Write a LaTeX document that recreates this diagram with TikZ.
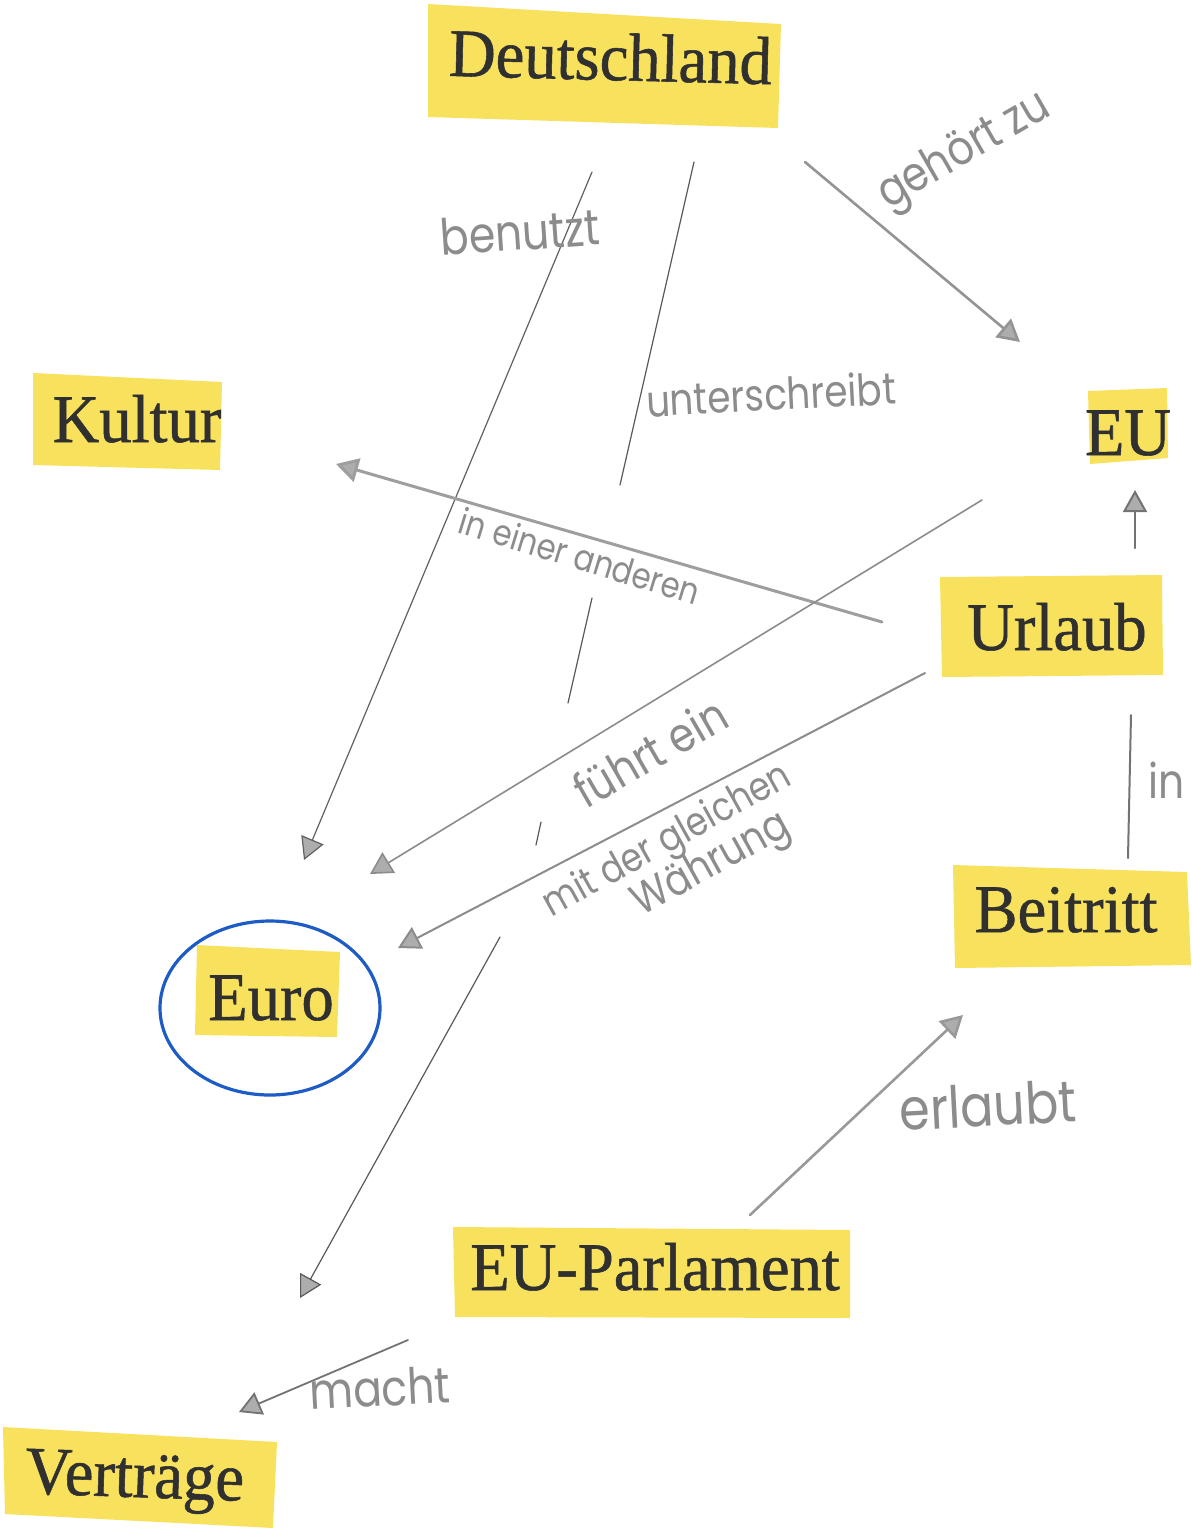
\documentclass[tikz,border=0pt]{standalone}
\usepackage{fontspec}
\usetikzlibrary{arrows.meta}
\newfontfamily\boxfont[FakeStretch=0.95,FakeBold=0.8]{Liberation Serif}
\newfontfamily\handfont[FakeStretch=0.85]{Poppins}
\definecolor{paper}{RGB}{248,225,92}
\definecolor{ink}{RGB}{48,48,48}
\definecolor{penblue}{RGB}{28,92,196}

\begin{document}
\begin{tikzpicture}[x=0.5pt,y=-0.5pt,
  term/.style={anchor=base, inner sep=0pt, text=ink,
    font=\boxfont\fontsize{34}{38}\selectfont},
  hand/.style={inner sep=0pt, text=black!45, align=center},
  tip/.style={-{Triangle[length=11pt,width=12pt,fill=black!32]}},
  link/.style={draw=black!55, line width=0.7pt, line cap=round},
  heavy/.style={draw=black!42, line width=1.3pt, line cap=round},
]
\fill[white] (0,0) rectangle (1191,1528);
\useasboundingbox (0,0) rectangle (1191,1528);

% paper slips
\fill[paper] (428,4) -- (781,24) -- (778,128) -- (428,117) -- cycle;
\fill[paper] (33,373) -- (222,382) -- (220,470) -- (33,465) -- cycle;
\fill[paper] (1088,391) -- (1167,388) -- (1168,458) -- (1090,464) -- cycle;
\fill[paper] (940,577) -- (1162,575) -- (1163,675) -- (942,677) -- cycle;
\fill[paper] (953,865) -- (1187,872) -- (1191,965) -- (955,968) -- cycle;
\fill[paper] (197,945) -- (340,952) -- (337,1037) -- (195,1035) -- cycle;
\fill[paper] (453,1227) -- (850,1230) -- (850,1318) -- (455,1317) -- cycle;
\fill[paper] (3,1427) -- (277,1442) -- (273,1528) -- (5,1514) -- cycle;

% terms
\node[term, rotate=-1.5] (deu) at (610,80) {Deutschland};
\node[term] (kul) at (137,442) {Kultur};
\node[term] (eu) at (1128,455) {EU};
\node[term] (url) at (1057,650) {Urlaub};
\node[term] (bei) at (1066,932) {Beitritt};
\node[term] (euro) at (271,1020) {Euro};
\node[term] (par) at (655,1290) {EU-Parlament};
\node[term, rotate=-2] (ver) at (134,1497) {Verträge};

% ring around Euro
\draw[penblue, line width=1.6pt] (270,1008) ellipse [x radius=110, y radius=87];

% connector end points
\coordinate (deu-b) at (592,172);   \coordinate (euro-b) at (304,860);
\coordinate (deu-u) at (694,162);   \coordinate (ver-u) at (300,1298);
\coordinate (deu-g) at (805,162);   \coordinate (eu-g) at (1020,342);
\coordinate (url-k) at (882,622);   \coordinate (kul-k) at (336,464);
\coordinate (eu-f) at (982,500);    \coordinate (euro-f) at (370,874);
\coordinate (url-m) at (925,673);   \coordinate (euro-m) at (398,948);
\coordinate (url-e) at (1135,548);  \coordinate (eu-e) at (1135,490);
\coordinate (bei-i) at (1128,858);  \coordinate (url-i) at (1131,715);
\coordinate (par-e) at (750,1215);  \coordinate (bei-e) at (963,1015);
\coordinate (par-m) at (408,1340);  \coordinate (ver-m) at (239,1412);

% connectors
\draw[link, draw=black!62, line width=0.6pt, tip] (deu-b) -- (euro-b);
\draw[link, draw=black!65, line width=0.6pt]
  (deu-u) -- (620,485) (592,598) -- (568,703) (541,822) -- (536,845);
\draw[link, draw=black!65, line width=0.6pt, tip] (500,937) -- (ver-u);
\draw[heavy, tip] (deu-g) -- (eu-g);
\draw[heavy, line width=1.5pt, draw=black!38, tip] (url-k) -- (kul-k);
\draw[link, draw=black!45, line width=0.8pt, tip] (eu-f) -- (euro-f);
\draw[link, draw=black!45, line width=1pt, tip] (url-m) -- (euro-m);
\draw[link, line width=1pt, tip] (url-e) -- (eu-e);
\draw[link, line width=1pt] (bei-i) -- (url-i);
\draw[heavy, draw=black!40, tip] (par-e) -- (bei-e);
\draw[link, line width=0.9pt, tip] (par-m) -- (ver-m);

% handwritten labels
\node[hand, font=\handfont\fontsize{25}{28}\selectfont, rotate=4] (l-ben) at (520,232) {benutzt};
\node[hand, font=\handfont\fontsize{22}{26}\selectfont, rotate=3] (l-unt) at (771,394) {unterschreibt};
\node[hand, font=\handfont\fontsize{24}{28}\selectfont, rotate=30] (l-geh) at (965,152) {gehört zu};
\node[hand, font=\handfont\fontsize{18}{22}\selectfont, rotate=-17] (l-and) at (580,556) {in einer anderen};
\node[hand, font=\handfont\fontsize{24}{28}\selectfont, rotate=30] (l-fue) at (650,752) {führt ein};
\node[hand, font=\handfont\fontsize{20}{24}\selectfont, rotate=29] (l-mit) at (668,842) {mit der gleichen};
\node[hand, font=\handfont\fontsize{22}{26}\selectfont, rotate=29] (l-wae) at (712,866) {Währung};
\node[hand, font=\handfont\fontsize{29}{32}\selectfont, rotate=3] (l-erl) at (988,1105) {erlaubt};
\node[hand, font=\handfont\fontsize{25}{28}\selectfont, rotate=3] (l-mac) at (380,1388) {macht};
\node[hand, font=\handfont\fontsize{24}{28}\selectfont] (l-in) at (1167,780) {in};
\end{tikzpicture}
\end{document}
